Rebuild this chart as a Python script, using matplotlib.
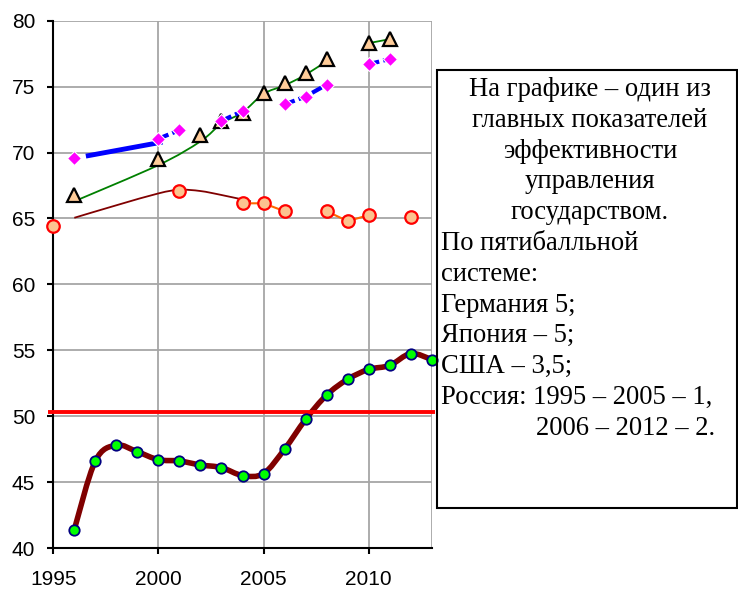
import numpy as np
import matplotlib
matplotlib.use("Agg")
import matplotlib.pyplot as plt
from matplotlib.path import Path
from matplotlib.patches import PathPatch, Rectangle

# ---------------- data ----------------
tri_years = [1996, 2000, 2002, 2003, 2004, 2005, 2006, 2007, 2008, 2010, 2011]
tri_vals = [66.8, 69.5, 71.3, 72.4, 73.0, 74.5, 75.25, 76.05, 77.1, 78.3, 78.6]

green_seg1_years = [1996, 2000, 2002, 2003, 2004, 2005, 2006, 2007, 2008]
green_seg1_vals = [66.3, 69.05, 70.85, 72.2, 73.05, 74.45, 75.1, 75.9, 76.95]
green_seg2_years = [2010, 2011]
green_seg2_vals = [78.3, 78.6]

dia_years = [1996, 2000, 2001, 2003, 2004, 2006, 2007, 2008, 2010, 2011]
dia_vals = [69.55, 71.05, 71.7, 72.4, 73.15, 73.65, 74.25, 75.15, 76.7, 77.1]
dash_groups = [[2000, 2001], [2003, 2004], [2006, 2007, 2008], [2010, 2011]]

blue_solid_years = [1996.55, 2000.2]
blue_solid_vals = [69.73, 70.8]

circ_years = [1995, 2001, 2004, 2005, 2006, 2008, 2009, 2010, 2012]
circ_vals = [64.45, 67.05, 66.15, 66.15, 65.55, 65.55, 64.8, 65.25, 65.1]
orange_groups = [[2004, 2005, 2006], [2008, 2009, 2010]]

maroon_thin_years = [1996, 1998, 2000, 2001, 2002, 2003, 2004.4]
maroon_thin_vals = [65.05, 66.0, 66.9, 67.18, 67.08, 66.78, 66.3]

rus_years = list(range(1996, 2014))
rus_vals = [41.4, 46.6, 47.8, 47.3, 46.7, 46.6, 46.3, 46.1, 45.5, 45.65,
            47.5, 49.75, 51.6, 52.8, 53.55, 53.85, 54.75, 54.3]

ref_level = 50.35

x_ticks = [1995, 2000, 2005, 2010]
y_ticks = [40, 45, 50, 55, 60, 65, 70, 75, 80]

note_center = ["На графике – один из", "главных показателей", "эффективности",
               "управления", "государством."]
note_left = ["По пятибалльной", "системе:", "Германия 5;", "Япония – 5;",
             "США – 3,5;", "Россия: 1995 – 2005 – 1,"]
note_last = "2006 – 2012 – 2."


def smooth_path(xs, ys):
    xs = np.asarray(xs, float)
    ys = np.asarray(ys, float)
    n = len(xs)
    verts = [(xs[0], ys[0])]
    codes = [Path.MOVETO]
    for i in range(n - 1):
        i0 = max(i - 1, 0)
        i3 = min(i + 2, n - 1)
        c1 = (xs[i] + (xs[i + 1] - xs[i0]) / 6.0, ys[i] + (ys[i + 1] - ys[i0]) / 6.0)
        c2 = (xs[i + 1] - (xs[i3] - xs[i]) / 6.0, ys[i + 1] - (ys[i3] - ys[i]) / 6.0)
        verts += [c1, c2, (xs[i + 1], ys[i + 1])]
        codes += [Path.CURVE4] * 3
    return Path(verts, codes)


fig = plt.figure(figsize=(7.38, 5.89), dpi=100)
ax = fig.add_axes([0.0722, 0.0696, 0.5128, 0.8952])
ax.set_xlim(1995, 2013)
ax.set_ylim(40, 80)

grid_c = "#a6a6a6"
for v in y_ticks[1:]:
    ax.axhline(v, color=grid_c, lw=1.3, zorder=0)
for v in x_ticks[1:] + [2013]:
    ax.axvline(v, color=grid_c, lw=1.3, zorder=0)
ax.spines["top"].set_visible(False)
ax.spines["right"].set_visible(False)
ax.spines["left"].set_color("black")
ax.spines["bottom"].set_color("black")
ax.spines["left"].set_linewidth(1.5)
ax.spines["bottom"].set_linewidth(1.5)

ax.set_xticks(x_ticks)
ax.set_yticks(y_ticks)
ax.tick_params(direction="out", length=4, width=1.5, labelsize=15)
ax.tick_params(axis="x", pad=11.5)
ax.tick_params(axis="y", pad=9)
for lab in ax.get_xticklabels() + ax.get_yticklabels():
    lab.set_family(["Liberation Sans", "DejaVu Sans"])

# green smoothed line + triangles
ax.add_patch(PathPatch(smooth_path(green_seg1_years, green_seg1_vals), fc="none",
                       ec="#008000", lw=1.3, zorder=3))
ax.add_patch(PathPatch(smooth_path(green_seg2_years, green_seg2_vals), fc="none",
                       ec="#008000", lw=1.3, zorder=3))
ax.plot(tri_years, tri_vals, ls="none", marker="^", ms=10, mfc="#FFCC99",
        mec="black", mew=1.6, zorder=4)

# blue lines + magenta diamonds
ax.plot(blue_solid_years, blue_solid_vals, color="#0000FF", lw=3.5,
        solid_capstyle="butt", zorder=5)
for g in dash_groups:
    gv = [dia_vals[dia_years.index(y)] for y in g]
    ax.plot(g, gv, color="#0000FF", lw=3, ls=(0, (2.6, 1.0)), zorder=5)
ax.plot(dia_years, dia_vals, ls="none", marker="D", ms=7.5, mfc="#FF00FF",
        mec="white", mew=0.8, zorder=6)

# maroon thin smoothed line
ax.add_patch(PathPatch(smooth_path(maroon_thin_years, maroon_thin_vals), fc="none",
                       ec="#800000", lw=1.3, zorder=3))

# orange line + circles
for g in orange_groups:
    gv = [circ_vals[circ_years.index(y)] for y in g]
    ax.plot(g, gv, color="#FF6600", lw=1.5, zorder=4)
ax.plot(circ_years, circ_vals, ls="none", marker="o", ms=9, mfc="#FCC38F",
        mec="#FF0000", mew=1.6, zorder=5, clip_on=False)

# Russia thick maroon smoothed + green circles
ax.add_patch(PathPatch(smooth_path(rus_years, rus_vals), fc="none",
                       ec="#800000", lw=4, zorder=6, capstyle="round", joinstyle="round"))
ax.plot([1994.75, 2013.15], [ref_level, ref_level], color="#FF0000", lw=2.8,
        zorder=7, clip_on=False, solid_capstyle="butt")
ax.plot(rus_years, rus_vals, ls="none", marker="o", ms=7.5, mfc="#00FF00",
        mec="#000080", mew=1.3, zorder=8, clip_on=False)

# text box
W, H = 738.0, 589.0
fig.patches.append(Rectangle((437 / W, 1 - 508 / H), 300 / W, 438 / H,
                             transform=fig.transFigure, fill=False,
                             ec="black", lw=1.5, zorder=10))
fam = ["Liberation Serif", "DejaVu Serif"]
fs = 19.2
y0 = 96.0
dy = 30.8
for i, t in enumerate(note_center):
    fig.text(590 / W, 1 - (y0 + i * dy) / H, t, ha="center", va="baseline",
             fontsize=fs, family=fam)
for j, t in enumerate(note_left):
    i = j + len(note_center)
    fig.text(441.5 / W, 1 - (y0 + i * dy) / H, t, ha="left", va="baseline",
             fontsize=fs, family=fam)
i = len(note_center) + len(note_left)
fig.text(536 / W, 1 - (y0 + i * dy) / H, note_last, ha="left", va="baseline",
         fontsize=fs, family=fam)

fig.savefig("out.png", dpi=100)
